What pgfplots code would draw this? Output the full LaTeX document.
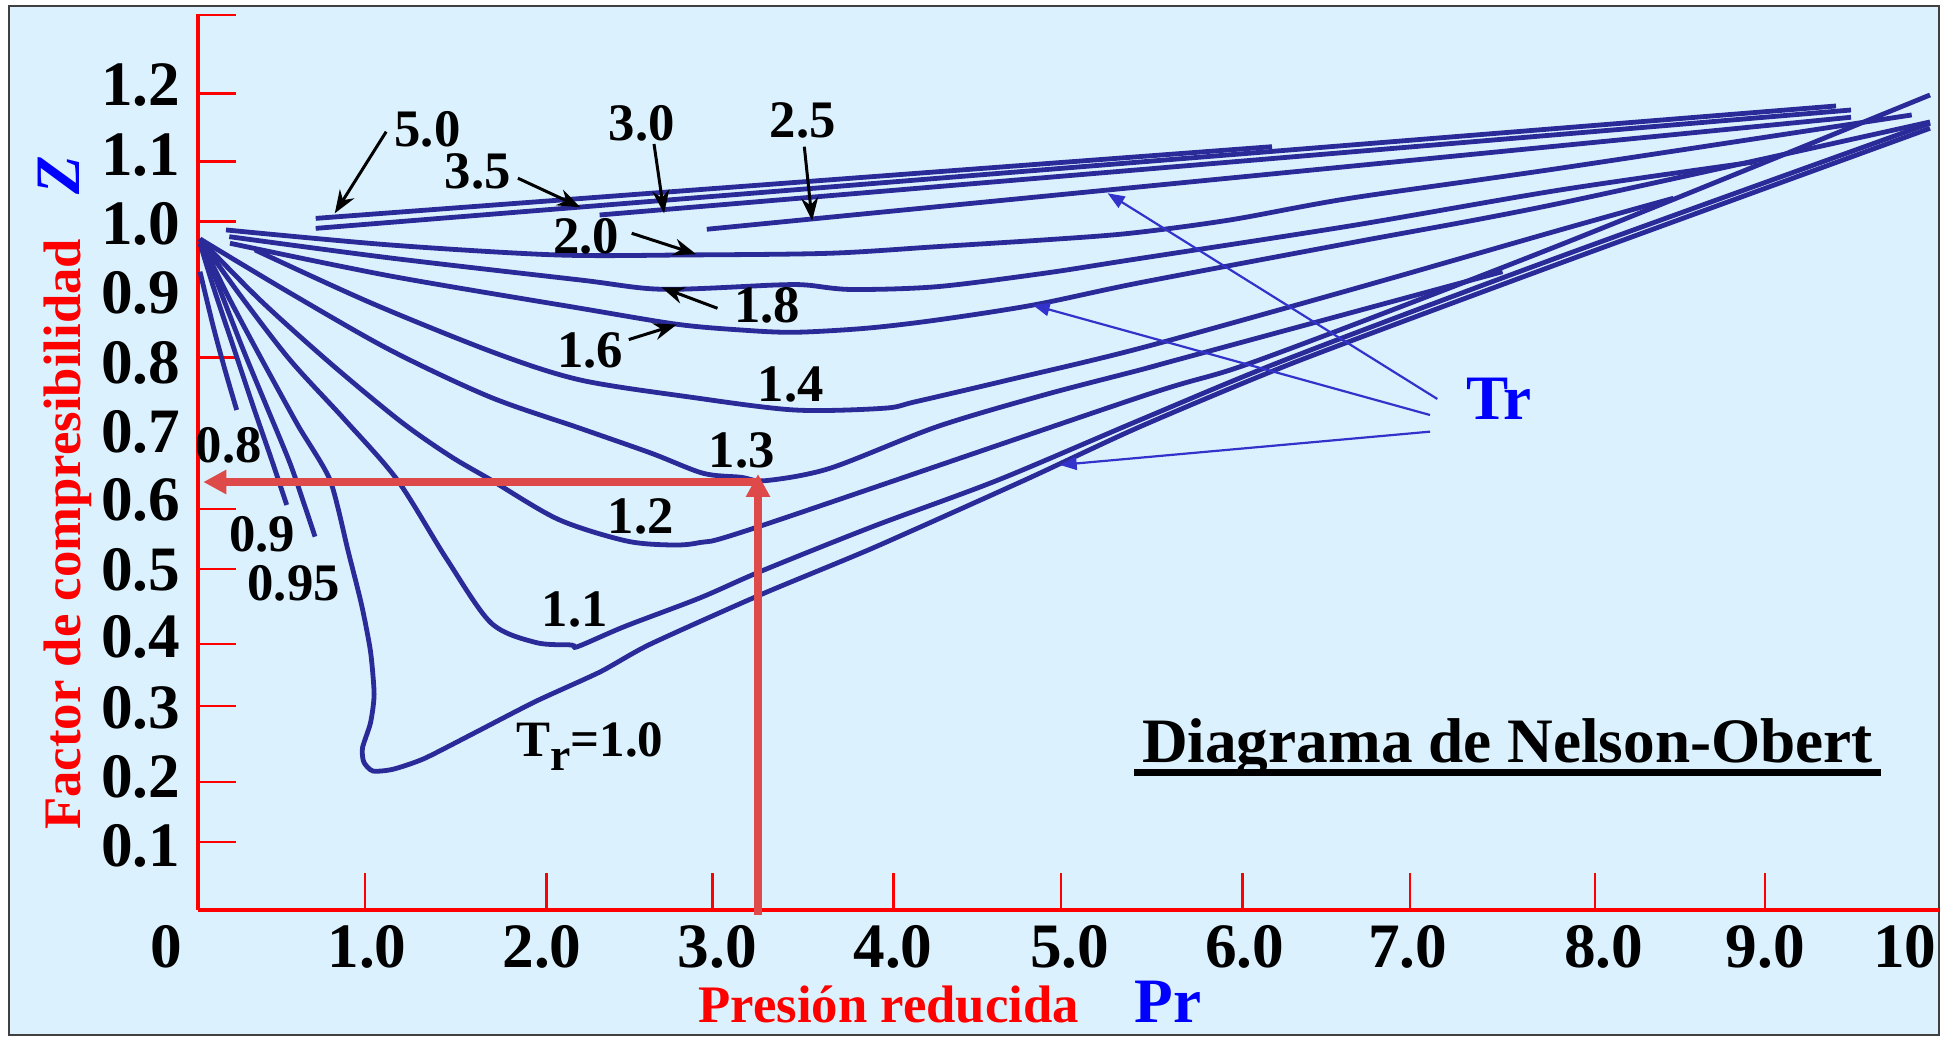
\documentclass[border=0pt]{standalone}
\usepackage{fontspec}
\setmainfont{Liberation Serif}
\usepackage{pgfplots}
\pgfplotsset{compat=1.18}
\usetikzlibrary{arrows.meta}
\definecolor{bgblue}{RGB}{219,241,253}
\definecolor{curvecol}{RGB}{42,42,152}
\definecolor{pointer}{RGB}{51,51,204}
\definecolor{redarrow}{RGB}{222,74,74}
\newcommand{\fs}[1]{\fontsize{#1}{#1}\selectfont}
\tikzset{
  crv/.style={curvecol, line width=0.48mm, smooth, tension=0.5},
  lbl/.style={font=\bfseries\fs{15}, inner sep=0pt, anchor=center},
  blk/.style={black, line width=0.3mm, -{Stealth[length=2.3mm, width=1.7mm]}},
  ptr/.style={pointer, line width=0.22mm, -{Triangle[length=1.7mm, width=1.3mm]}},
}
\begin{document}
\begin{tikzpicture}
\useasboundingbox (-19.81mm,-13.01mm) rectangle (174.29mm,90.99mm);
\fill[white] (-19.81mm,-13.01mm) rectangle (174.29mm,90.99mm);
\draw[fill=bgblue, draw=black!75, line width=0.25mm] (-18.91mm,-12.51mm) rectangle (174.09mm,90.39mm);
\begin{axis}[
  at={(0,0)}, anchor=south west,
  x=17.33mm, y=67.96mm,
  xmin=0, xmax=10.0456, ymin=0, ymax=1.318,
  axis lines=left,
  axis line style={red, line width=0.4mm, -},
  clip=false,
  tick align=inside,
  major tick length=0pt,
  tick style={red, line width=0.25mm},
  xtick={0.975,1.984,2.997,4.01,5.03,6.04,6.98,8.11,9.044,9.849},
  xticklabels={1.0,2.0,3.0,4.0,5.0,6.0,7.0,8.0,9.0,10},
  ytick={0.0940,0.1956,0.2971,0.4016,0.5007,0.6039,0.7037,0.8047,0.9077,1.0093,1.1108,1.2137},
  yticklabels={0.1,0.2,0.3,0.4,0.5,0.6,0.7,0.8,0.9,1.0,1.1,1.2},
  extra x ticks={0.964,2.010,2.968,4.014,4.978,6.026,6.994,8.060,9.040},
  extra x tick labels={},
  extra y ticks={0.0999,0.1882,0.3000,0.3913,0.5016,0.5899,0.8125,1.0127,1.1010,1.2010,1.3168},
  extra y tick labels={},
  extra x tick style={major tick length=3.7mm},
  extra y tick style={major tick length=3.8mm},
  xticklabel style={font=\bfseries\fs{18}, inner sep=0pt, anchor=north, yshift=-1.47mm},
  yticklabel style={font=\bfseries\fs{18}, inner sep=0pt, anchor=east, xshift=-1.73mm},
]
% Tr = 5.0, 3.5, 3.0, 2.5
\addplot[crv] coordinates {(0.6786,1.0175) (6.1968,1.1230)};
\addplot[crv] coordinates {(0.6786,1.0028) (9.4512,1.1829)};
\addplot[crv] coordinates {(2.3168,1.0225) (9.5378,1.1770)};
\addplot[crv] coordinates {(2.9354,1.0015) (9.5378,1.1663)};
% Tr = 2.0
\addplot[crv] coordinates {(0.161,1.0005) (1.1073,0.9784) (2.0692,0.9637) (2.8211,0.9637) (3.6463,0.9662) (4.2637,0.9759) (4.8811,0.9858) (5.3774,0.9956) (5.9544,1.0152) (6.6469,1.0471) (7.8586,1.0913) (9.8880,1.1697)};
% Tr = 1.8
\addplot[crv] coordinates {(0.18,0.9906) (1.1073,0.9593) (2.2037,0.9269) (2.6768,0.9132) (3.3347,0.9195) (3.5078,0.9195) (3.7675,0.9129) (4.2637,0.9170) (4.8811,0.9367) (5.3774,0.9563) (6.6469,1.0064) (7.8586,1.0593) (8.9937,1.1010)};
% Tr = 1.6
\addplot[crv] coordinates {(0.1841,0.9809) (1.1073,0.9328) (2.2037,0.8853) (2.7634,0.8617) (3.1310,0.8533) (3.4386,0.8499) (3.8523,0.8558) (4.2637,0.8680) (4.8211,0.8901) (5.4351,0.9229) (6.6469,0.9813) (7.8586,1.0398) (9.9936,1.1594)};
% Tr = 1.4
\addplot[crv] coordinates {(0.3283,0.9711) (0.9977,0.8931) (1.7132,0.8195) (2.2037,0.7798) (2.8211,0.7552) (3.4386,0.7356) (3.9556,0.7381) (4.1408,0.7478) (4.6769,0.7798) (5.4351,0.8264) (6.6469,0.9122) (7.8586,1.0005) (8.5124,1.0471)};
% Tr = 1.3
\addplot[crv] coordinates {(0.011,0.9872) (0.5303,0.9078) (1.1073,0.8239) (1.6844,0.7547) (2.2037,0.7087) (2.6157,0.6719) (2.9134,0.6425) (3.1310,0.6366) (3.2752,0.6316) (3.6463,0.6498) (4.2637,0.7110) (4.8811,0.7577) (5.4351,0.7945) (5.6463,0.8092) (7.5269,0.9391)};
% Tr = 1.2
\addplot[crv] coordinates {(0.011,0.9872) (0.3572,0.8975) (0.7611,0.8048) (1.1650,0.7194) (1.4536,0.6679) (1.6901,0.6326) (2.0767,0.5748) (2.4634,0.5433) (2.7202,0.5370) (2.8962,0.5406) (3.2343,0.5639) (5.4351,0.7547) (6.1235,0.8092) (7.8586,0.9784) (9.9936,1.1991)};
% Tr = 1.1
\addplot[crv] coordinates {(0.011,0.9872) (0.2418,0.9048) (0.5303,0.8092) (0.8477,0.7209) (1.1495,0.6326) (1.4328,0.5169) (1.6901,0.4223) (1.9481,0.3935) (2.1541,0.3898) (2.1922,0.3876) (2.4634,0.4172) (2.8962,0.4591) (3.2516,0.4987) (3.8956,0.5643) (4.6169,0.6326) (5.4351,0.7209) (6.3006,0.8121) (7.8586,0.9612) (9.9936,1.1575)};
% Tr = 1.0
\addplot[crv, tension=0.4] coordinates {(0.011,0.9872) (0.1841,0.8975) (0.3687,0.8092) (0.5765,0.7128) (0.7611,0.6326) (0.8661,0.5275) (0.9434,0.4487) (0.9948,0.3804) (1.0156,0.3172) (0.9948,0.2752) (0.9486,0.2384) (0.9562,0.2175) (1.0081,0.2044) (1.1241,0.2069) (1.3041,0.2226) (1.5874,0.2594) (1.9481,0.3068) (2.3191,0.3501) (2.6076,0.3908) (3.2516,0.4644) (3.8956,0.5327) (4.7715,0.6326) (5.4351,0.7110) (6.3324,0.8062) (7.8586,0.9515) (9.9936,1.1501)};
% Tr = 0.95, 0.9, 0.8
\addplot[crv] coordinates {(0.0208,0.9833) (0.1264,0.9122) (0.2608,0.8239) (0.3958,0.7405) (0.5303,0.6572) (0.6169,0.5933) (0.6746,0.5492)};
\addplot[crv] coordinates {(0.011,0.9809) (0.0877,0.9170) (0.2031,0.8287) (0.3185,0.7405) (0.4247,0.6620) (0.5113,0.5958)};
\addplot[crv] coordinates {(0.011,0.9391) (0.0877,0.8582) (0.1552,0.7945) (0.2227,0.7356)};

% red reading arrows
\addplot[redarrow, line width=0.8mm, -{Triangle[length=2.3mm, width=2.3mm]}] coordinates {(3.2308,-0.0075) (3.2308,0.6414)};
\addplot[redarrow, line width=0.8mm, -{Triangle[length=2.3mm, width=2.3mm]}] coordinates {(3.25,0.6296) (0.030,0.6296)};

% labels of the curves
\node[lbl] at (axis cs:1.3237,1.1486) {5.0};
\node[lbl] at (axis cs:1.6134,1.0863) {3.5};
\node[lbl] at (axis cs:2.5597,1.1575) {3.0};
\node[lbl] at (axis cs:3.4899,1.1623) {2.5};
\node[lbl] at (axis cs:2.2383,0.9906) {2.0};
\node[lbl] at (axis cs:3.2839,0.8889) {1.8};
\node[lbl] at (axis cs:2.2637,0.8239) {1.6};
\node[lbl] at (axis cs:3.4195,0.7736) {1.4};
\node[lbl] at (axis cs:3.1362,0.6767) {1.3};
\node[lbl] at (axis cs:2.5540,0.5787) {1.2};
\node[lbl] at (axis cs:2.1737,0.4420) {1.1};
\node[lbl] at (axis cs:0.1772,0.6841) {0.8};
\node[lbl] at (axis cs:0.3705,0.5524) {0.9};
\node[lbl] at (axis cs:0.5511,0.4801) {0.95};
\node[font=\bfseries\fs{14.5}, inner sep=0pt, anchor=base west] at (axis cs:1.8319,0.2253) {T\raisebox{-1.4mm}{\fs{13}r}=1.0};

% black arrows
\draw[blk] (axis cs:1.0854,1.1451) -- (axis cs:0.7888,1.0250);
\draw[blk] (axis cs:1.8454,1.0766) -- (axis cs:2.2060,1.0339);
\draw[blk] (axis cs:2.6307,1.1270) -- (axis cs:2.6890,1.0250);
\draw[blk] (axis cs:3.4980,1.1230) -- (axis cs:3.5430,1.0141);
\draw[blk] (axis cs:2.5020,0.9956) -- (axis cs:2.8742,0.9648);
\draw[blk] (axis cs:2.9971,0.8852) -- (axis cs:2.6734,0.9161);
\draw[blk] (axis cs:2.4853,0.8392) -- (axis cs:2.7617,0.8612);

% Tr pointers
\draw[ptr] (axis cs:7.1506,0.7518) -- (axis cs:5.2481,1.0545);
\draw[ptr] (axis cs:7.1085,0.7282) -- (axis cs:4.8154,0.8901);
\draw[ptr] (axis cs:7.1085,0.7037) -- (axis cs:4.9717,0.6547);
\node[anchor=base, text=blue, font=\bfseries\fs{18}, inner sep=0pt] at (axis cs:7.5066,0.7209) {Tr};

% titles
\node[rotate=90, anchor=base, text=red, font=\bfseries\fs{15}, inner sep=0pt] at (axis cs:-0.6792,0.5527) {Factor de compresibilidad};
\node[rotate=90, anchor=base, text=blue, font=\bfseries\itshape\fs{18}, inner sep=0pt] at (axis cs:-0.6815,1.0815) {Z};
\node[anchor=base, text=red, font=\bfseries\fs{15}, inner sep=0pt] at (axis cs:3.9856,-0.1663) {Presión reducida};
\node[anchor=base, text=blue, font=\bfseries\fs{18}, inner sep=0pt] at (axis cs:5.5955,-0.1664) {Pr};
\node[anchor=base, font=\bfseries\fs{18}, inner sep=0pt] at (axis cs:7.5557,0.2176) {Diagrama de Nelson-Obert};
\draw[black, line width=0.67mm] (axis cs:5.4027,0.2023) -- (axis cs:9.7086,0.2023);
\node[anchor=north, inner sep=0pt, font=\bfseries\fs{18}, yshift=-1.47mm] at (axis cs:-0.1852,0) {0};
\end{axis}
\end{tikzpicture}
\end{document}
